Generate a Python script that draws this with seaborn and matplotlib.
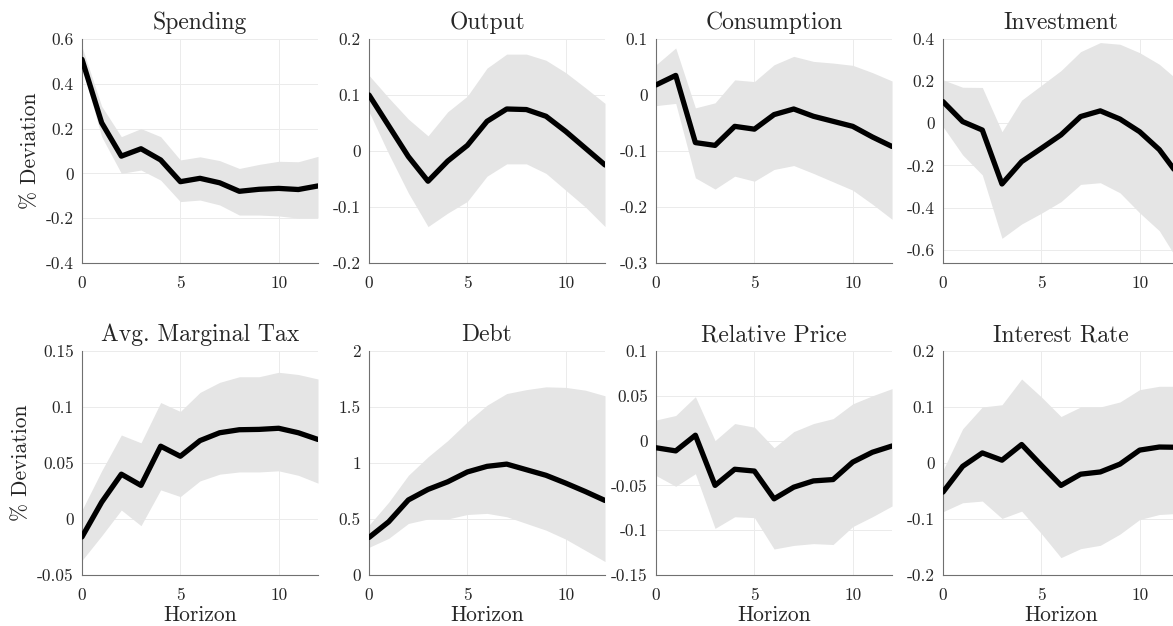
import matplotlib
matplotlib.use("Agg")
import matplotlib.pyplot as plt
import seaborn as sns
import pandas as pd
from matplotlib.ticker import MultipleLocator, FuncFormatter

# impulse responses (median + band), horizons 0..12
horizon = list(range(13))
titles = ['Spending', 'Output', 'Consumption', 'Investment',
          'Avg. Marginal Tax', 'Debt', 'Relative Price', 'Interest Rate']

spending = [0.509, 0.226, 0.077, 0.11, 0.06, -0.037, -0.022, -0.042, -0.08, -0.071, -0.067, -0.072, -0.056]
spending_hi = [0.565, 0.30, 0.164, 0.20, 0.164, 0.06, 0.074, 0.057, 0.022, 0.04, 0.054, 0.052, 0.076]
spending_lo = [0.476, 0.164, 0.0, 0.015, -0.03, -0.126, -0.119, -0.141, -0.186, -0.186, -0.19, -0.20, -0.199]

output = [0.10, 0.045, -0.01, -0.054, -0.018, 0.01, 0.053, 0.075, 0.074, 0.062, 0.035, 0.005, -0.025]
output_hi = [0.135, 0.095, 0.057, 0.027, 0.07, 0.098, 0.148, 0.173, 0.173, 0.162, 0.14, 0.113, 0.085]
output_lo = [0.07, -0.005, -0.075, -0.135, -0.111, -0.09, -0.045, -0.023, -0.023, -0.04, -0.07, -0.10, -0.135]

consumption = [0.018, 0.035, -0.085, -0.09, -0.056, -0.061, -0.035, -0.025, -0.038, -0.047, -0.056, -0.075, -0.092]
consumption_hi = [0.054, 0.084, -0.023, -0.014, 0.027, 0.024, 0.054, 0.069, 0.06, 0.057, 0.053, 0.04, 0.025]
consumption_lo = [-0.019, -0.015, -0.148, -0.168, -0.145, -0.154, -0.133, -0.126, -0.14, -0.155, -0.17, -0.195, -0.222]

investment = [0.103, 0.008, -0.032, -0.288, -0.182, -0.119, -0.055, 0.032, 0.059, 0.02, -0.04, -0.125, -0.25]
investment_hi = [0.206, 0.171, 0.17, -0.04, 0.11, 0.18, 0.25, 0.34, 0.383, 0.375, 0.335, 0.28, 0.2]
investment_lo = [-0.016, -0.15, -0.245, -0.546, -0.478, -0.427, -0.372, -0.29, -0.282, -0.33, -0.425, -0.51, -0.66]

tax = [-0.016, 0.015, 0.040, 0.030, 0.065, 0.056, 0.070, 0.077, 0.0797, 0.080, 0.081, 0.077, 0.071]
tax_hi = [0.008, 0.043, 0.075, 0.068, 0.104, 0.096, 0.113, 0.122, 0.127, 0.127, 0.131, 0.129, 0.125]
tax_lo = [-0.037, -0.015, 0.008, -0.006, 0.026, 0.02, 0.034, 0.04, 0.042, 0.042, 0.043, 0.039, 0.032]

debt = [0.335, 0.475, 0.67, 0.764, 0.832, 0.92, 0.97, 0.99, 0.94, 0.89, 0.82, 0.745, 0.665]
debt_hi = [0.445, 0.65, 0.89, 1.055, 1.2, 1.367, 1.516, 1.62, 1.655, 1.68, 1.675, 1.65, 1.6]
debt_lo = [0.247, 0.327, 0.46, 0.5, 0.5, 0.54, 0.55, 0.52, 0.46, 0.40, 0.32, 0.22, 0.12]

price = [-0.008, -0.0115, 0.006, -0.05, -0.032, -0.034, -0.065, -0.052, -0.045, -0.0435, -0.024, -0.013, -0.006]
price_hi = [0.023, 0.028, 0.049, 0.0, 0.019, 0.015, -0.008, 0.01, 0.019, 0.0245, 0.041, 0.05, 0.058]
price_lo = [-0.039, -0.051, -0.037, -0.098, -0.085, -0.086, -0.121, -0.117, -0.115, -0.116, -0.096, -0.085, -0.073]

rate = [-0.052, -0.006, 0.018, 0.005, 0.033, -0.004, -0.04, -0.02, -0.016, -0.002, 0.023, 0.0285, 0.028]
rate_hi = [-0.013, 0.061, 0.1, 0.104, 0.15, 0.118, 0.083, 0.1, 0.1, 0.109, 0.131, 0.137, 0.137]
rate_lo = [-0.087, -0.071, -0.068, -0.099, -0.086, -0.126, -0.169, -0.153, -0.147, -0.127, -0.101, -0.092, -0.09]

medians = [spending, output, consumption, investment, tax, debt, price, rate]
uppers = [spending_hi, output_hi, consumption_hi, investment_hi, tax_hi, debt_hi, price_hi, rate_hi]
lowers = [spending_lo, output_lo, consumption_lo, investment_lo, tax_lo, debt_lo, price_lo, rate_lo]

ylims = [(-0.4, 0.6), (-0.2, 0.2), (-0.3, 0.1), (-0.663, 0.4),
         (-0.05, 0.15), (0, 2), (-0.15, 0.1), (-0.2, 0.2)]
ysteps = [0.2, 0.1, 0.1, 0.2, 0.05, 0.5, 0.05, 0.1]

sns.set_style("white")
plt.rcParams['font.family'] = ['cmr10', 'DejaVu Serif']
plt.rcParams['axes.unicode_minus'] = False
plt.rcParams['axes.formatter.use_mathtext'] = True

fig = plt.figure(figsize=(11.73, 6.26), dpi=100)

lefts = [0.0699, 0.3146, 0.5593, 0.8039]
bottoms = [0.5799, 0.0815]
w, h = 0.2012, 0.3578

fmt = FuncFormatter(lambda v, p: f"{v:g}" if abs(v) > 1e-12 else "0")

for i in range(8):
    r, c = divmod(i, 4)
    ax = fig.add_axes([lefts[c], bottoms[r], w, h])
    df = pd.DataFrame({'h': horizon, 'm': medians[i]})
    ax.fill_between(horizon, lowers[i], uppers[i], color='#e5e5e5', lw=0, zorder=1)
    sns.lineplot(data=df, x='h', y='m', ax=ax, color='black', lw=3.8, zorder=3)
    ax.set_xlim(0, 12)
    ax.set_ylim(*ylims[i])
    ax.xaxis.set_major_locator(MultipleLocator(5))
    ax.yaxis.set_major_locator(MultipleLocator(ysteps[i]))
    ax.yaxis.set_major_formatter(fmt)
    ax.xaxis.set_major_formatter(fmt)
    ax.grid(True, color='#ebebeb', lw=0.7, zorder=0)
    ax.set_axisbelow(True)
    for s in ['top', 'right']:
        ax.spines[s].set_visible(False)
    for s in ['left', 'bottom']:
        ax.spines[s].set_color('#707070')
        ax.spines[s].set_linewidth(0.8)
    ax.tick_params(direction='in', length=3, width=0.6, color='#707070',
                   labelsize=12.5, pad=6)
    ax.tick_params(axis='x', pad=9)
    ax.set_title(titles[i], fontsize=17, pad=7)
    ax.set_xlabel('Horizon' if r == 1 else '', fontsize=15.5, labelpad=2)
    ax.set_ylabel('% Deviation' if c == 0 else '', fontsize=15.5)

fig.savefig('out.png', dpi=100)
